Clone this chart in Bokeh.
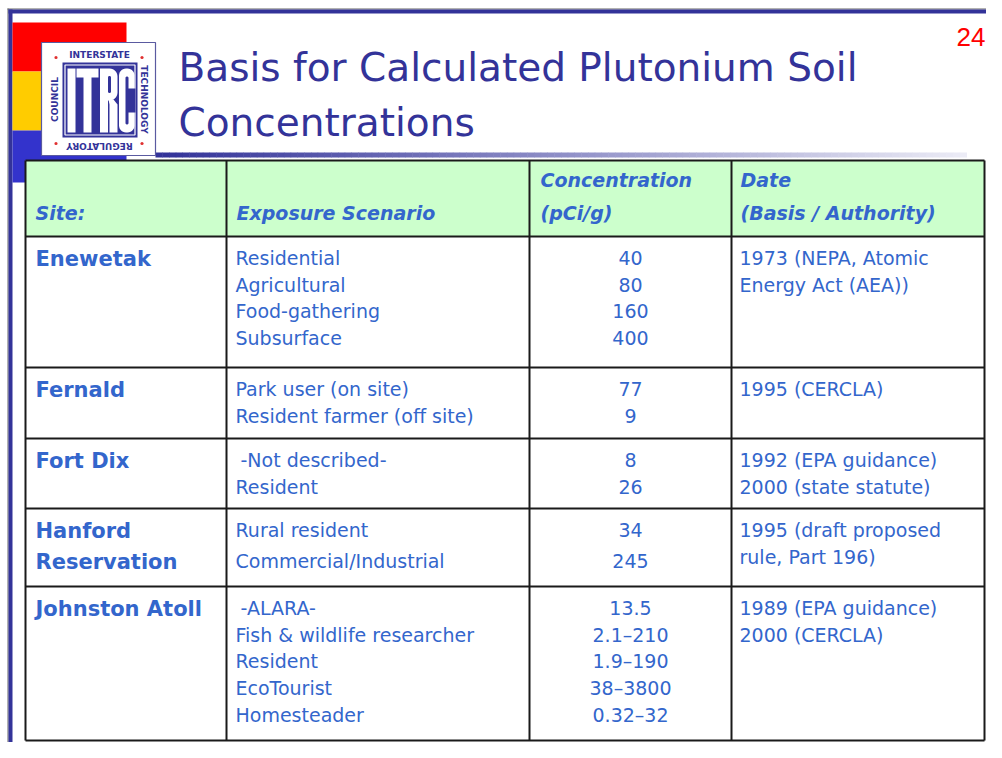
import numpy as np
from bokeh.plotting import figure
from bokeh.models import Range1d
from bokeh.core.properties import value
from bokeh.embed import file_html
from bokeh.resources import INLINE

# ---------------- data ----------------
title_lines = ["Basis for Calculated Plutonium Soil", "Concentrations"]
slide_number = "24"

header_site = ["", "Site:"]
header_scenario = ["", "Exposure Scenario"]
header_conc = ["Concentration", "(pCi/g)"]
header_date = ["Date", "(Basis / Authority)"]

sites = [["Enewetak"], ["Fernald"], ["Fort Dix"], ["Hanford", "Reservation"], ["Johnston Atoll"]]
scenarios = [
    ["Residential", "Agricultural", "Food-gathering", "Subsurface"],
    ["Park user (on site)", "Resident farmer (off site)"],
    [" -Not described-", "Resident"],
    ["Rural resident", "Commercial/Industrial"],
    [" -ALARA-", "Fish & wildlife researcher", "Resident", "EcoTourist", "Homesteader"],
]
concentrations = [
    ["40", "80", "160", "400"],
    ["77", "9"],
    ["8", "26"],
    ["34", "245"],
    ["13.5", "2.1\u2013210", "1.9\u2013190", "38\u20133800", "0.32\u201332"],
]
dates = [
    ["1973 (NEPA, Atomic", "Energy Act (AEA))"],
    ["1995 (CERCLA)"],
    ["1992 (EPA guidance)", "2000 (state statute)"],
    ["1995 (draft proposed", "rule, Part 196)"],
    ["1989 (EPA guidance)", "2000 (CERCLA)"],
]
logo_words = ["INTERSTATE", "TECHNOLOGY", "REGULATORY", "COUNCIL"]

# ---------------- styles / layout ----------------
W, H = 986, 742
NAVY = "#333399"
TEXT_BLUE = "#3366CC"
HEADER_BG = "#CCFFCC"
GRID = "#1a1a1a"
FONT = value("DejaVu Sans")
BASE_SHIFT = 0.40   # em correction for the alphabetic baseline

col_x = [25, 226, 529, 731, 984]
table_top, header_bottom = 160, 236
row_tops = [236, 367, 438, 508, 586]
table_bottom = 740
row_gap = [26.7, 26.7, 26.7, 31.0, 26.7]
date_gap = 26.7


def bl(y, size):
    return y - BASE_SHIFT * size


p = figure(width=W, height=H, x_range=Range1d(0, W), y_range=Range1d(H, 0),
           output_backend="svg", toolbar_location=None, min_border=0,
           x_axis_location=None, y_axis_location=None)
p.grid.visible = False
p.outline_line_color = None
p.background_fill_color = "white"
p.border_fill_color = "white"

# ---- slide decorations ----
p.quad(left=[7], right=[W], top=[8], bottom=[9], fill_color="#666666", line_color=None)
p.quad(left=[7], right=[8], top=[8], bottom=[H], fill_color="#666666", line_color=None)
p.quad(left=[8], right=[W], top=[9], bottom=[13], fill_color=NAVY, line_color=None)
p.quad(left=[8], right=[12], top=[9], bottom=[H], fill_color=NAVY, line_color=None)
p.quad(left=[12, 12, 12], right=[126, 126, 126], top=[22, 71, 130], bottom=[71, 130, 182],
       fill_color=["#FF0000", "#FFCC00", "#3333CC"], line_color=None)

# gradient rule under the title
n = 120
gx = np.linspace(155, 966, n + 1)
c0 = np.array([0x33, 0x33, 0x99]); c1 = np.array([0xEC, 0xEC, 0xF6])
cols = ["#%02x%02x%02x" % tuple(int(v) for v in (c0 + (c1 - c0) * t)) for t in np.linspace(0, 1, n)]
p.quad(left=gx[:-1], right=gx[1:] + 0.5, top=152, bottom=157, fill_color=cols, line_color=None)

# ---- logo ----
p.quad(left=[41], right=[155], top=[42], bottom=[155], fill_color="white", line_color="#5A5AA0", line_width=1.2)
p.quad(left=[62], right=[137], top=[62], bottom=[137], fill_color=NAVY, line_color=None)
p.quad(left=[64.5], right=[134.5], top=[64.5], bottom=[134.5], fill_color=None, line_color="white", line_width=1.2)


def rrect(x0, x1, y0, y1, r, k=8):
    pts = []
    for cx, cy, a0, a1 in [(x1 - r, y0 + r, -90, 0), (x1 - r, y1 - r, 0, 90),
                           (x0 + r, y1 - r, 90, 180), (x0 + r, y0 + r, 180, 270)]:
        for a in np.radians(np.linspace(a0, a1, k)):
            pts.append((cx + r * np.cos(a), cy + r * np.sin(a)))
    return [q[0] for q in pts], [q[1] for q in pts]


def arc(cx, cy, r, a0, a1, k=8):
    a = np.radians(np.linspace(a0, a1, k))
    return list(cx + r * np.cos(a)), list(cy + r * np.sin(a))


white_xs, white_ys = [], []
# I
white_xs.append([67, 75, 75, 67]); white_ys.append([68, 68, 132, 132])
# T
white_xs.append([76, 98, 98, 91, 91, 83, 83, 76]); white_ys.append([68, 68, 77, 77, 132, 132, 77, 77])
# R stem + bowl
ax1, ay1 = arc(109, 76, 8, -90, 0)
ax2, ay2 = arc(109, 92, 8, 0, 90)
white_xs.append([99.5] + ax1 + ax2 + [107.5, 107.5, 99.5]); white_ys.append([68] + ay1 + ay2 + [100, 132, 132])
white_xs.append([108, 113, 117, 117, 109, 109]); white_ys.append([99, 99, 104, 132, 132, 104])
# C
cx_, cy_ = rrect(118.5, 134, 68, 132, 7)
white_xs.append(cx_); white_ys.append(cy_)
p.patches(white_xs, white_ys, fill_color="white", line_color=None)
navy_xs, navy_ys = [], []
cx_, cy_ = rrect(107.5, 110.5, 75.5, 92.5, 1.4)
navy_xs.append(cx_); navy_ys.append(cy_)
cx_, cy_ = rrect(125, 128, 76, 124, 1.5)
navy_xs.append(cx_); navy_ys.append(cy_)
navy_xs.append([126.5, 135, 135, 126.5]); navy_ys.append([88, 88, 112, 112])
p.patches(navy_xs, navy_ys, fill_color=NAVY, line_color=None)

p.text(x=[99, 143.5, 99, 54.5], y=[54.5, 99, 145, 99], text=logo_words,
       angle=[0, -np.pi / 2, np.pi, np.pi / 2], text_font=value("DejaVu Sans"),
       text_font_style="bold", text_font_size=value("9px"), text_color=NAVY,
       text_align="center", text_baseline="middle")
p.scatter(x=[55.5, 141.5, 55.5, 141.5], y=[57, 57, 143, 143], size=3.2, color="#E03030", line_color=None)

# ---- title and slide number ----
p.text(x=[178, 178], y=[bl(83, 39), bl(138, 39)], text=title_lines, text_font=FONT, text_font_size=value("39px"),
       text_color=NAVY, text_baseline="alphabetic", text_align="left")
p.text(x=[985], y=[bl(47, 26)], text=[slide_number], text_font=value("Liberation Sans"),
       text_font_size=value("26px"), text_color="#FF0000", text_baseline="alphabetic", text_align="right")

# ---- table ----
p.quad(left=[col_x[0]], right=[col_x[-1]], top=[table_top], bottom=[header_bottom],
       fill_color=HEADER_BG, line_color=None)
hy = [table_top] + row_tops + [table_bottom]
p.segment(x0=[col_x[0]] * len(hy), x1=[col_x[-1]] * len(hy), y0=hy, y1=hy, line_color=GRID, line_width=2)
p.segment(x0=col_x, x1=col_x, y0=[table_top] * len(col_x), y1=[table_bottom] * len(col_x),
          line_color=GRID, line_width=2)

# header texts
hx, hyy, ht = [], [], []
for xpos, lines in zip([35, 236, 540, 740], [header_site, header_scenario, header_conc, header_date]):
    for i, t in enumerate(lines):
        if t:
            hx.append(xpos); hyy.append(bl(187 + i * 33, 19)); ht.append(t)
p.text(x=hx, y=hyy, text=ht, text_font=FONT, text_font_style="bold italic", text_font_size=value("19px"),
       text_color=TEXT_BLUE, text_baseline="alphabetic", text_align="left")

sx, sy, st = [], [], []
bx, by, bt = [], [], []
cx, cy, ct = [], [], []
for r, top in enumerate(row_tops):
    for i, t in enumerate(sites[r]):
        sx.append(col_x[0] + 10); sy.append(bl(top + 31 + i * row_gap[r], 21)); st.append(t)
    for i, t in enumerate(scenarios[r]):
        lead = len(t) - len(t.lstrip())
        bx.append(col_x[1] + 9 + 5 * lead); by.append(bl(top + 29 + i * row_gap[r], 19)); bt.append(t.strip())
    for i, t in enumerate(concentrations[r]):
        cx.append((col_x[2] + col_x[3]) / 2); cy.append(bl(top + 29 + i * row_gap[r], 19)); ct.append(t)
    for i, t in enumerate(dates[r]):
        bx.append(col_x[3] + 8); by.append(bl(top + 29 + i * date_gap, 19)); bt.append(t)

p.text(x=sx, y=sy, text=st, text_font=FONT, text_font_style="bold", text_font_size=value("21px"),
       text_color=TEXT_BLUE, text_baseline="alphabetic", text_align="left")
p.text(x=bx, y=by, text=bt, text_font=FONT, text_font_size=value("19px"),
       text_color=TEXT_BLUE, text_baseline="alphabetic", text_align="left")
p.text(x=cx, y=cy, text=ct, text_font=FONT, text_font_size=value("19px"),
       text_color=TEXT_BLUE, text_baseline="alphabetic", text_align="center")

open("out.html", "w").write(file_html(p, INLINE))
